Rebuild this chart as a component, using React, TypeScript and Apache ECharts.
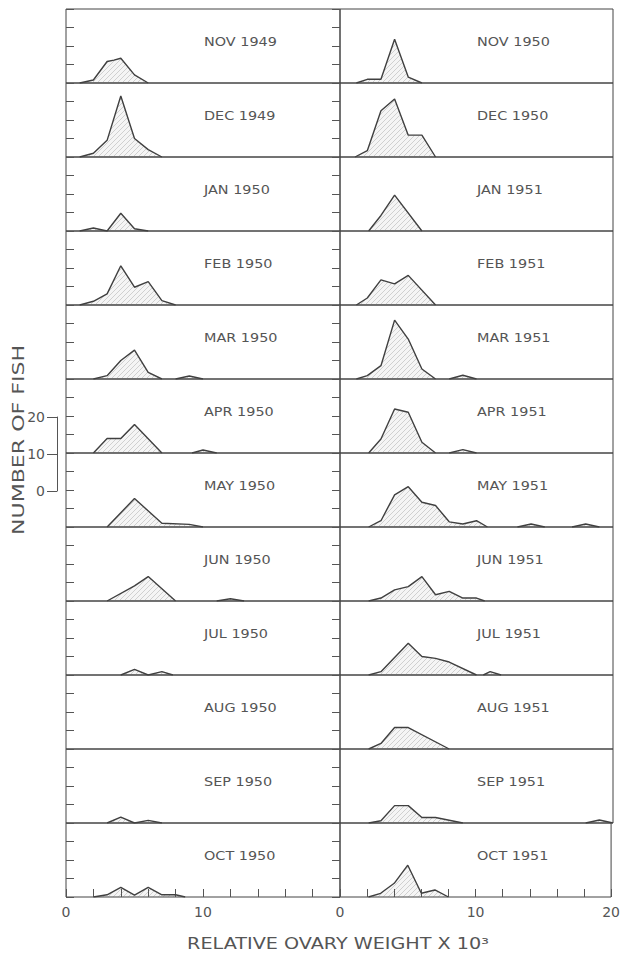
import React, { useEffect, useRef } from "react";
import * as echarts from "echarts";

type Pt = [number, number];

// Month labels for each column (top to bottom)
const leftMonths = [
  "NOV 1949", "DEC 1949", "JAN 1950", "FEB 1950", "MAR 1950", "APR 1950",
  "MAY 1950", "JUN 1950", "JUL 1950", "AUG 1950", "SEP 1950", "OCT 1950",
];
const rightMonths = [
  "NOV 1950", "DEC 1950", "JAN 1951", "FEB 1951", "MAR 1951", "APR 1951",
  "MAY 1951", "JUN 1951", "JUL 1951", "AUG 1951", "SEP 1951", "OCT 1951",
];

// Frequency polygons: [relative ovary weight x 10^3, number of fish]; each inner list is one polygon
const nov1949: Pt[][] = [[[1, 0], [2, 0.8], [3, 5.8], [3.5, 6.2], [4, 6.7], [5, 2.2], [6, 0]]];
const dec1949: Pt[][] = [[[1, 0], [2, 1], [3, 4.5], [4, 16.5], [5, 5], [6, 2], [7, 0]]];
const jan1950: Pt[][] = [[[1, 0], [2, 0.8], [3, 0], [4, 4.8], [5, 0.6], [6, 0]]];
const feb1950: Pt[][] = [[[1, 0], [2, 1], [3, 3], [4, 10.6], [5, 4.8], [6, 6.3], [7, 1.2], [8, 0]]];
const mar1950: Pt[][] = [[[2, 0], [3, 0.9], [4, 5], [5, 7.8], [6, 1.8], [7, 0]], [[8, 0], [9, 0.8], [10, 0]]];
const apr1950: Pt[][] = [[[2, 0], [3, 3.9], [4, 3.9], [5, 7.7], [7, 0]], [[9.2, 0], [10, 0.8], [11, 0]]];
const may1950: Pt[][] = [[[3, 0], [5, 7.7], [7, 1], [9, 0.7], [10, 0]]];
const jun1950: Pt[][] = [[[3, 0], [5, 4.1], [6, 6.6], [8, 0]], [[11, 0], [12, 0.6], [13, 0]]];
const jul1950: Pt[][] = [[[4, 0], [5, 1.5], [6, 0], [7, 0.9], [7.8, 0]]];
const aug1950: Pt[][] = [];
const sep1950: Pt[][] = [[[3, 0], [4, 1.6], [5, 0], [6, 0.7], [7, 0]]];
const oct1950: Pt[][] = [[[2, 0], [3, 0.6], [4, 2.6], [5, 0.5], [6, 2.6], [7, 0.6], [8, 0.6], [8.7, 0]]];

const nov1950: Pt[][] = [[[1.2, 0], [2, 1], [3, 1], [4, 11.8], [5, 1.6], [6, 0]]];
const dec1950: Pt[][] = [[[1.1, 0], [2, 1.7], [3, 12.5], [4, 15.7], [5, 5.9], [6, 5.9], [7, 0]]];
const jan1951: Pt[][] = [[[2.1, 0], [3, 4.2], [4, 9.7], [6, 0]]];
const feb1951: Pt[][] = [[[1.2, 0], [2, 1.9], [3, 6.8], [4, 5.7], [5, 8], [7, 0]]];
const mar1951: Pt[][] = [[[1.2, 0], [2, 0.9], [3, 3.6], [4, 15.9], [5, 10.8], [6, 2.7], [7, 0]], [[8, 0], [9, 1], [10, 0]]];
const apr1951: Pt[][] = [[[2.1, 0], [3, 3.8], [4, 11.9], [5, 11], [6, 2.9], [7, 0]], [[8, 0], [9, 0.9], [10, 0]]];
const may1951: Pt[][] = [
  [[2.1, 0], [3, 1.7], [4, 8.7], [5, 10.9], [6, 6.7], [7, 5.8], [8, 1.4], [9, 0.8], [10, 1.7], [10.8, 0]],
  [[13, 0], [14, 0.8], [15, 0]],
  [[17, 0], [18, 0.8], [19, 0]],
];
const jun1951: Pt[][] = [[[2.1, 0], [3, 0.8], [4, 3], [5, 3.9], [6, 6.6], [7, 1.7], [8, 2.6], [9, 0.8], [10, 0.8], [10.6, 0]]];
const jul1951: Pt[][] = [[[2.1, 0], [3, 0.9], [5, 8.6], [6, 5], [7, 4.5], [8, 3.5], [10, 0]], [[10.5, 0], [11, 0.9], [11.8, 0]]];
const aug1951: Pt[][] = [[[2.1, 0], [3, 1.5], [4, 5.8], [5, 5.8], [8, 0]]];
const sep1951: Pt[][] = [[[2.1, 0], [3, 0.6], [4, 4.7], [5, 4.7], [6, 1.5], [7, 1.5], [9, 0]], [[18, 0], [19, 0.8], [20, 0]]];
const oct1951: Pt[][] = [[[2.1, 0], [3, 1], [4, 3.7], [5, 8.6], [6, 1], [7, 1.9], [8, 0]]];

const leftData = [nov1949, dec1949, jan1950, feb1950, mar1950, apr1950, may1950, jun1950, jul1950, aug1950, sep1950, oct1950];
const rightData = [nov1950, dec1950, jan1951, feb1951, mar1951, apr1951, may1951, jun1951, jul1951, aug1951, sep1951, oct1951];

// Tick labels
const xTickLabelsLeft = [0, 10];
const xTickLabelsRight = [0, 10, 20];
const scaleBarTicks = [0, 10, 20];

const X_TITLE = "RELATIVE OVARY WEIGHT X 10³";
const Y_TITLE = "NUMBER OF FISH";

const FONT = "DejaVu Sans";
const INK = "#404040";
const TEXT = "#555";

function makeHatch(): any {
  const c = document.createElement("canvas");
  c.width = 5;
  c.height = 5;
  const ctx = c.getContext("2d")!;
  ctx.fillStyle = "rgba(0,0,0,0.04)";
  ctx.fillRect(0, 0, 5, 5);
  ctx.strokeStyle = "rgba(110,110,110,0.4)";
  ctx.lineWidth = 0.7;
  ctx.beginPath();
  ctx.moveTo(0, 5);
  ctx.lineTo(5, 0);
  ctx.stroke();
  return { image: c, repeat: "repeat" };
}

export default function App() {
  const ref = useRef<HTMLDivElement>(null);

  useEffect(() => {
    document.body.style.margin = "0";
    if (!ref.current) return;
    const chart = echarts.init(ref.current, undefined, { renderer: "svg" });
    const hatch = makeHatch();

    const ROW_TOP = 9;
    const ROW_H = 74;
    const cols = [
      { left: 66, width: 274, months: leftMonths, data: leftData, yPos: "left", labels: xTickLabelsLeft, labelX: 204 },
      { left: 340, width: 273, months: rightMonths, data: rightData, yPos: "right", labels: xTickLabelsRight, labelX: 477 },
    ];

    const grid: any[] = [];
    const xAxis: any[] = [];
    const yAxis: any[] = [];
    const series: any[] = [];
    const graphic: any[] = [];

    cols.forEach((c) => {
      c.months.forEach((m, i) => {
        const idx = grid.length;
        const top = ROW_TOP + i * ROW_H;
        const isBottom = i === c.months.length - 1;
        grid.push({
          left: c.left, top, width: c.width, height: ROW_H,
          show: true, borderColor: "#444", borderWidth: 1, backgroundColor: "transparent",
        });
        xAxis.push({
          gridIndex: idx, type: "value", min: 0, max: 20, interval: 2,
          axisLine: { show: false },
          axisTick: { show: isBottom, inside: true, length: 8, lineStyle: { color: "#555" } },
          axisLabel: {
            show: isBottom, margin: 8, fontSize: 14, color: TEXT, fontFamily: FONT,
            formatter: (v: number) => (c.labels.indexOf(v) >= 0 ? String(v) : ""),
          },
          splitLine: { show: false },
        });
        yAxis.push({
          gridIndex: idx, type: "value", min: 0, max: 20, interval: 5, position: c.yPos,
          axisLine: { show: false },
          axisTick: { show: true, inside: true, length: 8, lineStyle: { color: "#555" } },
          axisLabel: { show: false },
          splitLine: { show: false },
        });
        c.data[i].forEach((seg) => {
          series.push({
            type: "line", xAxisIndex: idx, yAxisIndex: idx, data: seg,
            symbol: "none", silent: true,
            lineStyle: { color: INK, width: 1.4 },
            areaStyle: { color: hatch, opacity: 1 },
          });
        });
        graphic.push({
          type: "text", x: c.labelX, y: top + 33, scaleX: 1.2, silent: true,
          style: { text: m, fill: TEXT, font: `12px "${FONT}"`, textAlign: "left", textVerticalAlign: "middle" },
        });
      });
    });

    // scale bar for number of fish
    const sIdx = grid.length;
    grid.push({ left: 57, top: 417, width: 1, height: 74, show: false });
    xAxis.push({ gridIndex: sIdx, type: "value", show: false, min: 0, max: 1 });
    yAxis.push({
      gridIndex: sIdx, type: "value", min: 0, max: 20, interval: 10, position: "left",
      axisLine: { show: true, lineStyle: { color: "#555", width: 1 } },
      axisTick: { show: true, inside: false, length: 10, lineStyle: { color: "#555" } },
      axisLabel: {
        show: true, margin: 12, fontSize: 14, color: TEXT, fontFamily: FONT,
        formatter: (v: number) => (scaleBarTicks.indexOf(v) >= 0 ? String(v) : ""),
      },
      splitLine: { show: false },
    });

    graphic.push({
      type: "text", x: 19, y: 440, rotation: Math.PI / 2, scaleX: 1.38, silent: true,
      style: { text: Y_TITLE, fill: TEXT, font: `16px "${FONT}"`, textAlign: "center", textVerticalAlign: "middle" },
    });
    graphic.push({
      type: "text", x: 338, y: 944, scaleX: 1.2, silent: true,
      style: { text: X_TITLE, fill: TEXT, font: `16px "${FONT}"`, textAlign: "center", textVerticalAlign: "middle" },
    });

    chart.setOption({
      animation: false,
      backgroundColor: "#fff",
      grid, xAxis, yAxis, series, graphic,
    });
    return () => chart.dispose();
  }, []);

  return <div ref={ref} style={{ width: 623, height: 955 }} />;
}
